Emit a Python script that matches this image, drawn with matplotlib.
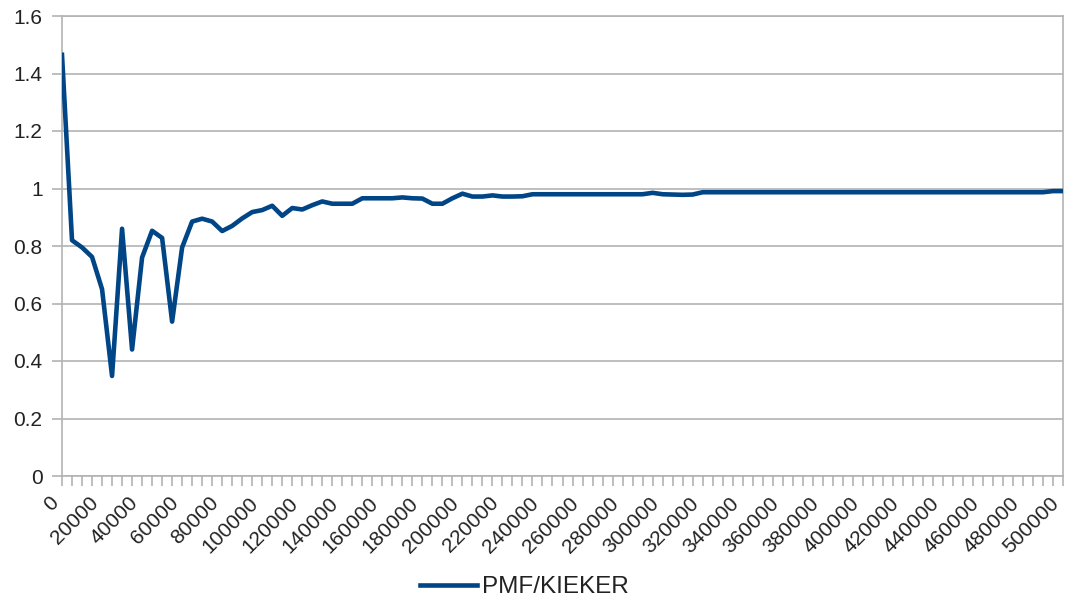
import matplotlib
matplotlib.use("Agg")
import matplotlib.pyplot as plt
import matplotlib.transforms as mtransforms

plt.rcParams['font.family'] = ['Liberation Sans', 'DejaVu Sans']

# requests (every 5000), ratio PMF/KIEKER
x_values = list(range(0, 500001, 5000))
ratio = [
    1.465, 0.82, 0.795, 0.762, 0.65, 0.348, 0.86, 0.44, 0.76, 0.853,
    0.828, 0.537, 0.795, 0.885, 0.895, 0.885, 0.852, 0.87, 0.896, 0.918,
    0.925, 0.94, 0.905, 0.932, 0.927, 0.942, 0.955, 0.947, 0.947, 0.947,
    0.966, 0.966, 0.966, 0.966, 0.969, 0.966, 0.965, 0.947, 0.947, 0.966,
    0.982, 0.972, 0.972, 0.976, 0.972, 0.972, 0.973, 0.98, 0.98, 0.98,
    0.98, 0.98, 0.98, 0.98, 0.98, 0.98, 0.98, 0.98, 0.98, 0.985,
    0.98, 0.979, 0.978, 0.979, 0.987, 0.987, 0.987, 0.987, 0.987, 0.987,
    0.987, 0.987, 0.987, 0.987, 0.987, 0.987, 0.987, 0.987, 0.987, 0.987,
    0.987, 0.987, 0.987, 0.987, 0.987, 0.987, 0.987, 0.987, 0.987, 0.987,
    0.987, 0.987, 0.987, 0.987, 0.987, 0.987, 0.987, 0.987, 0.987, 0.991,
    0.991,
]
series_name = "PMF/KIEKER"
y_ticks = [0, 0.2, 0.4, 0.6, 0.8, 1, 1.2, 1.4, 1.6]
y_labels = ["0", "0.2", "0.4", "0.6", "0.8", "1", "1.2", "1.4", "1.6"]

grid_col = "#b3b3b3"
line_col = "#004586"

fig = plt.figure(figsize=(10.74, 6.03), dpi=100)
ax = fig.add_axes([62 / 1074, (603 - 476) / 603, 1001 / 1074, 460 / 603])

pos = list(range(len(x_values)))
line, = ax.plot(pos, ratio, color=line_col, lw=3.3, solid_joinstyle='round',
                label=series_name, zorder=3)

ax.set_xlim(0, len(x_values) - 1)
ax.set_ylim(0, 1.6)

ax.set_yticks(y_ticks)
ax.set_yticklabels(y_labels)
ax.set_xticks(pos)
ax.set_xticklabels([str(v) if i % 4 == 0 else "" for i, v in enumerate(x_values)],
                   rotation=45, ha='right')

offset = mtransforms.ScaledTranslation(3 / 100, 0, fig.dpi_scale_trans)
for lab in ax.get_xticklabels():
    lab.set_transform(lab.get_transform() + offset)

ax.tick_params(axis='both', colors=grid_col, labelcolor='#222222',
               labelsize=15, length=7.5, width=1.2)
ax.tick_params(axis='y', pad=6.5)
ax.tick_params(axis='x', pad=5)

ax.yaxis.grid(True, color=grid_col, lw=1.2)
ax.set_axisbelow(True)
for s in ax.spines.values():
    s.set_color(grid_col)
    s.set_linewidth(1.2)

fig.legend(handles=[line], loc='center', bbox_to_anchor=(524 / 1074, 1 - 587 / 603),
           frameon=False, fontsize=17.5, handlelength=2.35, handletextpad=0.2,
           labelcolor='#222222')

fig.savefig("out.png", dpi=100)
